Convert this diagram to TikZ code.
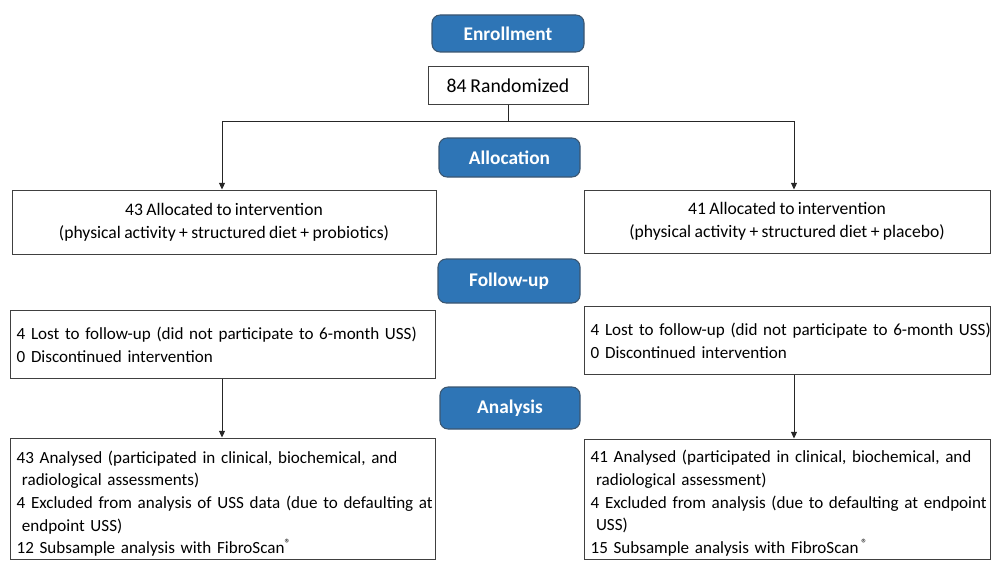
\documentclass[tikz,border=0pt]{standalone}
\usepackage{fontspec}
\setmainfont[WordSpace=0.85]{Carlito}
\usetikzlibrary{arrows.meta}
\definecolor{hdblue}{HTML}{2E75B6}
\definecolor{hdborder}{HTML}{3B5670}
\definecolor{boxline}{HTML}{404040}
\newcommand{\oneline}[1]{\mbox{#1}}
\begin{document}
\begin{tikzpicture}[x=0.75pt,y=-0.75pt,
  header/.style={draw=hdborder,line width=0.8pt,fill=hdblue,rounded corners=6pt,
    text=white,font=\fontsize{14.5}{17}\selectfont\bfseries,inner sep=0pt},
  plainbox/.style={draw=boxline,line width=0.75pt,fill=white,inner sep=0pt,
    font=\fontsize{13.2}{17.5}\selectfont,align=center},
  leftbox/.style={draw=boxline,line width=0.75pt,fill=white,inner xsep=5pt,inner ysep=0pt,
    font=\fontsize{12.8}{17}\selectfont,align=left},
  conn/.style={draw=black!85,line width=0.75pt},
  arr/.style={conn,-{Triangle[length=5pt,width=4.5pt]}}
]
\useasboundingbox (0,0) rectangle (991,560);

\node[header,minimum width=114pt,minimum height=27.75pt] (enroll) at (508,33.5) {Enrollment};
\node[plainbox,minimum width=120pt,minimum height=27.75pt,font=\fontsize{14.75}{17}\selectfont] (rand) at (508,85.5) {84 Randomized};
\node[header,minimum width=105.75pt,minimum height=29.25pt] (alloc) at (509.5,157.5) {Allocation};

\node[plainbox,minimum width=318pt,minimum height=48pt] (l1) at (224,222)
  {43 Allocated to intervention\\(physical activity + structured diet + probiotics)};
\node[plainbox,minimum width=304.5pt,minimum height=47.25pt] (r1) at (787,221.5)
  {41 Allocated to intervention\\(physical activity + structured diet + placebo)};

\node[header,minimum width=106.5pt,minimum height=33pt] (follow) at (509,281) {Follow-up};

\node[leftbox,text width=308.75pt,minimum height=51pt] (l2) at (222.5,344)
  {\oneline{\rule{0pt}{11pt}4 Lost to follow-up (did not participate to 6-month USS)}\\\oneline{0 Discontinued intervention}};
\node[leftbox,text width=294.5pt,minimum height=51pt] (r2) at (787,340)
  {\oneline{\rule{0pt}{11pt}4 Lost to follow-up (did not participate to 6-month USS)}\\\oneline{0 Discontinued intervention}};

\node[header,minimum width=105pt,minimum height=31.5pt] (analysis) at (510,408) {Analysis};

\node[leftbox,text width=308.75pt,minimum height=90.75pt] (l3) at (222.5,498.5)
  {\oneline{\rule{0pt}{17pt}43 Analysed (participated in clinical, biochemical, and}\\
   \oneline{\hspace*{4pt}radiological assessments)}\\
   \oneline{4 Excluded from analysis of USS data (due to defaulting at}\\
   \oneline{\hspace*{4pt}endpoint USS)}\\
   \oneline{12 Subsample analysis with FibroScan\textsuperscript{®}}};
\node[leftbox,text width=294.5pt,minimum height=90pt] (r3) at (787,499)
  {\oneline{\rule{0pt}{16pt}41 Analysed (participated in clinical, biochemical, and}\\
   \oneline{\hspace*{4pt}radiological assessment)}\\
   \oneline{4 Excluded from analysis (due to defaulting at endpoint}\\
   \oneline{\hspace*{4pt}USS)}\\
   \oneline{15 Subsample analysis with FibroScan\,\textsuperscript{®}}};

\coordinate (split) at (508,121);
\coordinate (lc) at (222,121);
\coordinate (rc) at (794,121);
\draw[conn] (rand.south) -- (split);
\draw[arr] (split) -- (lc) -- (lc |- l1.north);
\draw[arr] (split) -- (rc) -- (rc |- r1.north);
\draw[arr] (lc |- l2.south) -- (lc |- l3.north);
\draw[arr] (rc |- r2.south) -- (rc |- r3.north);
\end{tikzpicture}
\end{document}
